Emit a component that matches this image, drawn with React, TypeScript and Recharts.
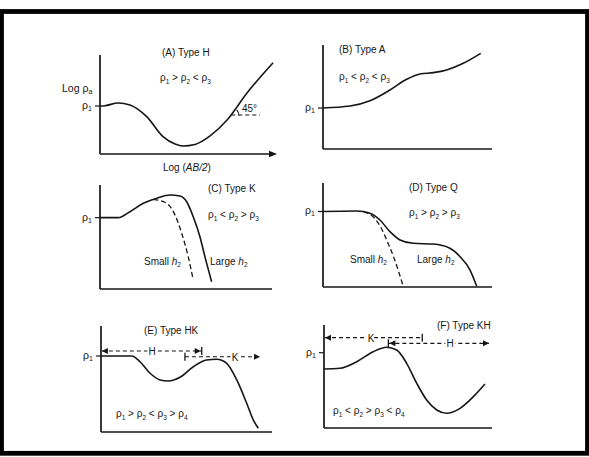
import React from "react";
import { LineChart, Line, XAxis, YAxis, ReferenceLine } from "recharts";

type Pt = { x: number; y: number };
type End = "none" | "arrow" | "bar" | "barArrow";

// curves, in % of each panel's axis box (x from the y-axis, y up from the x-axis)
const typeH: Pt[] = [
  { x: 0, y: 48.5 }, { x: 2.9, y: 48.8 }, { x: 10.3, y: 51.5 }, { x: 17.1, y: 49.5 },
  { x: 26.7, y: 37.7 }, { x: 36, y: 17.5 }, { x: 42.9, y: 10.1 }, { x: 47.4, y: 8.1 },
  { x: 54.3, y: 9.6 }, { x: 62.9, y: 18.2 }, { x: 72.6, y: 34.3 }, { x: 84, y: 61.6 },
  { x: 98.9, y: 92.2 },
];
const typeA: Pt[] = [
  { x: 0, y: 39.4 }, { x: 16, y: 41.3 }, { x: 27.8, y: 46.4 }, { x: 39.6, y: 56.7 },
  { x: 49.5, y: 67 }, { x: 57.4, y: 72.1 }, { x: 65.3, y: 73.4 }, { x: 73.2, y: 76 },
  { x: 83, y: 82.4 }, { x: 93.3, y: 92 },
];
const typeKLarge: Pt[] = [
  { x: 0, y: 68.6 }, { x: 10.6, y: 68.6 }, { x: 17.4, y: 74.3 }, { x: 25.2, y: 82.4 },
  { x: 33, y: 87.2 }, { x: 40.7, y: 90.4 }, { x: 46.5, y: 89.4 }, { x: 50.4, y: 83.9 },
  { x: 54.2, y: 69.5 }, { x: 58.1, y: 50.3 }, { x: 61, y: 31.1 }, { x: 64.9, y: 7 },
];
const typeKSmall: Pt[] = [
  { x: 31, y: 86.2 }, { x: 38.8, y: 82.4 }, { x: 43.6, y: 71.2 }, { x: 47.5, y: 53.6 },
  { x: 51.3, y: 31.1 }, { x: 54.2, y: 8.7 },
];
const typeQLarge: Pt[] = [
  { x: 0, y: 72.6 }, { x: 19.9, y: 73.1 }, { x: 27.8, y: 70.9 }, { x: 33.7, y: 64.4 },
  { x: 39.6, y: 53.2 }, { x: 45.6, y: 45.2 }, { x: 53.4, y: 42 }, { x: 65.3, y: 41.3 },
  { x: 75.1, y: 37.2 }, { x: 81.1, y: 29.1 }, { x: 87, y: 16.3 }, { x: 90.9, y: 1 },
];
const typeQSmall: Pt[] = [
  { x: 24, y: 72.2 }, { x: 30, y: 67 }, { x: 34, y: 58 }, { x: 38, y: 44 },
  { x: 42, y: 28 }, { x: 47.5, y: 0.5 },
];
const typeHK: Pt[] = [
  { x: 0, y: 71.7 }, { x: 18, y: 71.7 }, { x: 22.8, y: 66.3 }, { x: 28.7, y: 55.4 },
  { x: 34.5, y: 49.1 }, { x: 39.4, y: 48.1 }, { x: 46.2, y: 51.6 }, { x: 54, y: 61.6 },
  { x: 61.8, y: 67.9 }, { x: 67.7, y: 68.6 }, { x: 73.5, y: 64.8 }, { x: 79.4, y: 49.1 },
  { x: 85.2, y: 27.1 }, { x: 89.1, y: 11.3 }, { x: 92, y: 3.5 },
];
const typeKH: Pt[] = [
  { x: 0, y: 57.3 }, { x: 9.5, y: 58 }, { x: 19.5, y: 64.4 }, { x: 29.3, y: 74.1 },
  { x: 37.3, y: 78.4 }, { x: 43.3, y: 75.7 }, { x: 49.2, y: 62.8 }, { x: 55.2, y: 43.4 },
  { x: 61.1, y: 27.2 }, { x: 67.1, y: 17.5 }, { x: 73, y: 14.3 }, { x: 81, y: 19.1 },
  { x: 88.9, y: 30.4 }, { x: 95.8, y: 42.7 },
];

// rho1 tick per panel
const rho1 = [48.5, 39.4, 68.6, 72.6, 71.7, 73.1];

const INK = "#161616";
const FONT = "'Liberation Sans', Arial, Helvetica, sans-serif";

const RhoTick = (props: any) => {
  const { x, y } = props;
  return (
    <text x={x} y={y + 3} textAnchor="end" fontSize={10.5} fill={INK} fontFamily={FONT}>
      ρ<tspan fontSize={7} dy={2}>1</tspan>
    </text>
  );
};

const head = (x: number, y: number, d: number, k: string) => (
  <polygon key={k} points={`${x},${y} ${x - d * 6},${y - 3} ${x - d * 6},${y + 3}`} fill={INK} />
);
const bar = (x: number, y: number, k: string) => (
  <line key={k} x1={x} y1={y - 4} x2={x} y2={y + 4} stroke={INK} strokeWidth={1.3} />
);

const arrowShape = (start: End, end: End) => (p: any) => {
  const { x1, y1, x2, y2 } = p;
  const d = x2 > x1 ? 1 : -1;
  const out: React.ReactNode[] = [
    <line key="l" x1={x1} y1={y1} x2={x2} y2={y2} stroke={INK} strokeWidth={1.2} strokeDasharray="4 3" />,
  ];
  const cap = (e: End, x: number, y: number, dir: number, k: string) => {
    if (e === "arrow") out.push(head(x, y, dir, k));
    if (e === "bar") out.push(bar(x, y, k));
    if (e === "barArrow") {
      out.push(bar(x, y, k + "b"));
      out.push(head(x - dir, y, dir, k));
    }
  };
  cap(start, x1, y1, -d, "s");
  cap(end, x2, y2, d, "e");
  return <g>{out}</g>;
};

type Box = { left: number; top: number; width: number; height: number };
type Arrow = { from: Pt; to: Pt; start: End; end: End };

function Panel({ box, p1, curves, arrows = [] }: {
  box: Box; p1: number; curves: { data: Pt[]; dashed?: boolean }[]; arrows?: Arrow[];
}) {
  return (
    <div style={{ position: "absolute", left: box.left - 30, top: box.top - 5 }}>
      <LineChart width={box.width + 35} height={box.height + 11} margin={{ top: 5, right: 5, bottom: 5, left: 0 }}>
        <XAxis type="number" dataKey="x" domain={[0, 100]} tick={false} tickLine={false} height={1}
          axisLine={{ stroke: INK, strokeWidth: 1.7 }} allowDataOverflow />
        <YAxis type="number" dataKey="y" domain={[0, 100]} ticks={[p1]} width={30} tickSize={5} tickMargin={3}
          tickLine={{ stroke: INK, strokeWidth: 1.2 }} axisLine={{ stroke: INK, strokeWidth: 1.7 }}
          tick={<RhoTick />} allowDataOverflow />
        {arrows.map((a, i) => (
          <ReferenceLine key={i} segment={[a.from, a.to]} ifOverflow="visible" shape={arrowShape(a.start, a.end)} />
        ))}
        {curves.map((c, i) => (
          <Line key={i} data={c.data} dataKey="y" type="monotone" dot={false} stroke={INK}
            strokeWidth={c.dashed ? 1.3 : 1.6} strokeDasharray={c.dashed ? "5 3" : undefined}
            isAnimationActive={false} />
        ))}
      </LineChart>
    </div>
  );
}

const Rel = ({ x, y, ops }: { x: number; y: number; ops: string[] }) => {
  const parts: React.ReactNode[] = [];
  for (let i = 0; i <= ops.length; i++) {
    parts.push(<tspan key={"r" + i}>ρ</tspan>);
    parts.push(<tspan key={"s" + i} fontSize={6.5} dy={2.5}>{i + 1}</tspan>);
    if (i < ops.length) parts.push(<tspan key={"o" + i} dy={-2.5}>{`\u00a0${ops[i]}\u00a0`}</tspan>);
  }
  return <text x={x} y={y} fontSize={10}>{parts}</text>;
};

const H2 = ({ x, y, word }: { x: number; y: number; word: string }) => (
  <text x={x} y={y} fontSize={10}>
    {word}{"\u00a0"}<tspan fontStyle="italic">h</tspan><tspan fontSize={6.5} dy={2}>2</tspan>
  </text>
);

const Letter = ({ x, y, s }: { x: number; y: number; s: string }) => (
  <text x={x} y={y} fontSize={10} textAnchor="middle" stroke="#fff" strokeWidth={4} paintOrder="stroke">{s}</text>
);

export default function App() {
  return (
    <div style={{ position: "absolute", left: 0, top: 0, width: 589, height: 457, background: "#fff", fontFamily: FONT, overflow: "hidden" }}>
      <Panel box={{ left: 100, top: 55, width: 175, height: 99 }} p1={rho1[0]} curves={[{ data: typeH }]}
        arrows={[{ from: { x: 75, y: 39.4 }, to: { x: 91.4, y: 39.4 }, start: "none", end: "none" }]} />
      <Panel box={{ left: 323, top: 45, width: 169, height: 104 }} p1={rho1[1]} curves={[{ data: typeA }]} />
      <Panel box={{ left: 100, top: 185, width: 172, height: 104 }} p1={rho1[2]}
        curves={[{ data: typeKLarge }, { data: typeKSmall, dashed: true }]} />
      <Panel box={{ left: 323, top: 183, width: 169, height: 104 }} p1={rho1[3]}
        curves={[{ data: typeQLarge }, { data: typeQSmall, dashed: true }]} />
      <Panel box={{ left: 101, top: 326, width: 171, height: 106 }} p1={rho1[4]} curves={[{ data: typeHK }]}
        arrows={[
          { from: { x: 0.5, y: 76.4 }, to: { x: 58.9, y: 76.4 }, start: "arrow", end: "barArrow" },
          { from: { x: 49.1, y: 71 }, to: { x: 93, y: 71 }, start: "bar", end: "arrow" },
        ]} />
      <Panel box={{ left: 324, top: 325, width: 168, height: 103 }} p1={rho1[5]} curves={[{ data: typeKH }]}
        arrows={[
          { from: { x: 0.6, y: 87.7 }, to: { x: 58.5, y: 87.7 }, start: "arrow", end: "bar" },
          { from: { x: 38.3, y: 82.2 }, to: { x: 98.2, y: 82.2 }, start: "barArrow", end: "arrow" },
        ]} />

      <svg width={589} height={457} style={{ position: "absolute", left: 0, top: 0, pointerEvents: "none" }}
        fontFamily={FONT} fill={INK}>
        <rect x={1.5} y={11.5} width={586} height={441.8} fill="none" stroke="#000" strokeWidth={4.8} />

        {/* A */}
        <polygon points="277,154 269,150.8 269,157.2" fill={INK} />
        <text x={162} y={56} fontSize={10}>(A) Type H</text>
        <Rel x={160} y={81} ops={[">", "<"]} />
        <text x={62} y={92} fontSize={10.5}>Log ρ<tspan fontSize={7} dy={2}>a</tspan></text>
        <text x={163} y={171} fontSize={10}>Log (<tspan fontStyle="italic">AB/2</tspan>)</text>
        <text x={242} y={112} fontSize={10}>45°</text>
        <path d="M 236.7 109.8 A 8 8 0 0 1 239 115.5" fill="none" stroke={INK} strokeWidth={1.1} />

        {/* B */}
        <text x={339} y={53} fontSize={10}>(B) Type A</text>
        <Rel x={339} y={80} ops={["<", "<"]} />

        {/* C */}
        <text x={208} y={192} fontSize={10}>(C) Type K</text>
        <Rel x={208} y={218} ops={["<", ">"]} />
        <H2 x={144} y={265} word="Small" />
        <H2 x={210} y={265} word="Large" />

        {/* D */}
        <text x={409} y={191} fontSize={10}>(D) Type Q</text>
        <Rel x={409} y={216} ops={[">", ">"]} />
        <H2 x={350} y={263} word="Small" />
        <H2 x={417} y={263} word="Large" />

        {/* E */}
        <text x={144} y={334} fontSize={10}>(E) Type HK</text>
        <Rel x={116} y={417} ops={[">", "<", ">"]} />
        <Letter x={152} y={355} s="H" />
        <Letter x={235} y={361} s="K" />

        {/* F */}
        <text x={437} y={329} fontSize={10}>(F) Type KH</text>
        <Rel x={333} y={414} ops={["<", ">", "<"]} />
        <Letter x={371} y={342} s="K" />
        <Letter x={450} y={347} s="H" />
      </svg>
    </div>
  );
}
